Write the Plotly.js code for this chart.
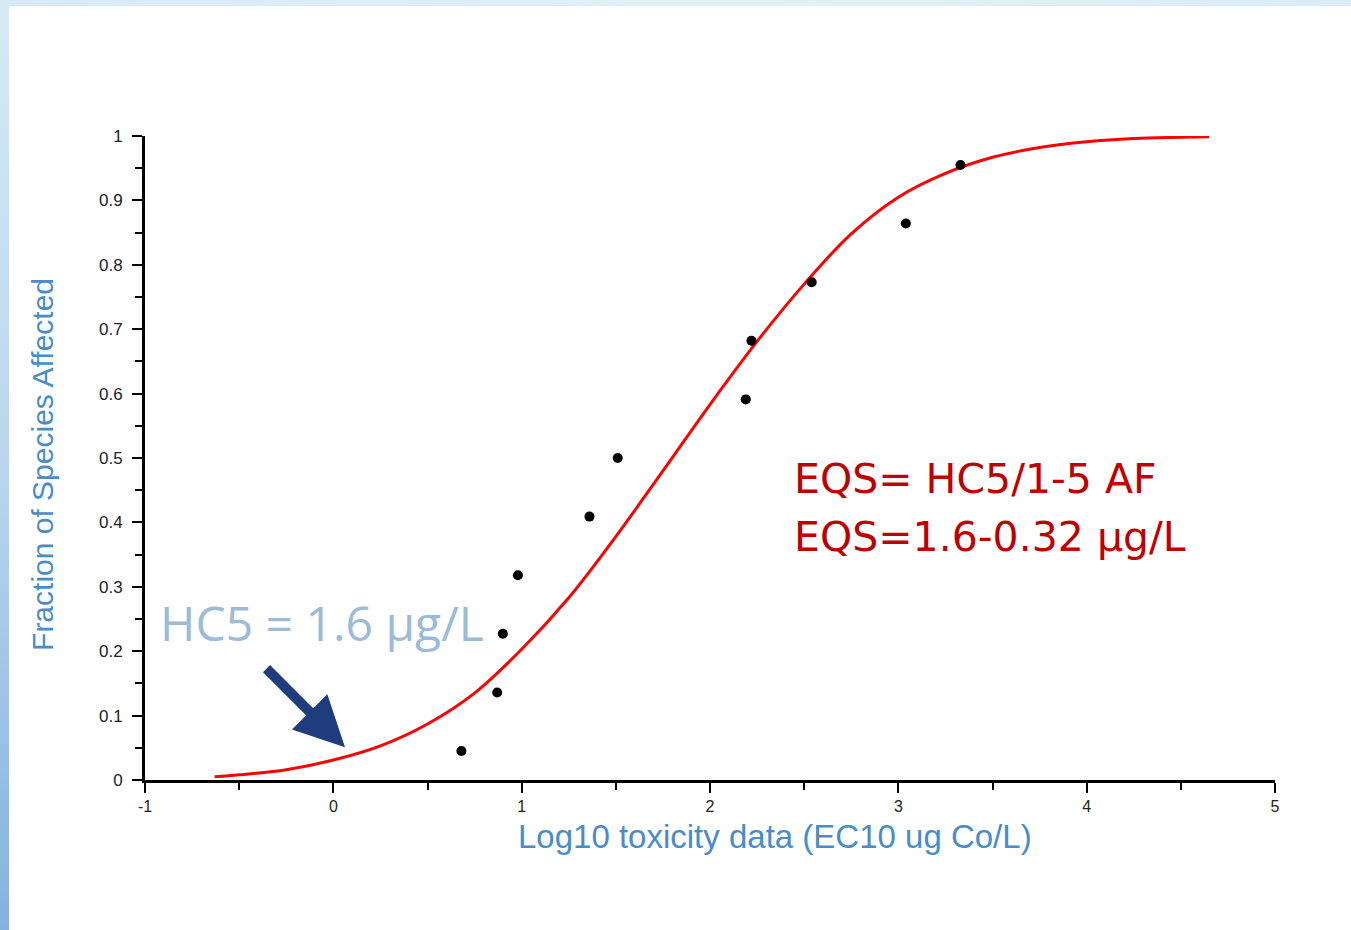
<!DOCTYPE html>
<html>
<head>
<meta charset="utf-8">
<script src="https://cdn.plot.ly/plotly-3.0.1.min.js"></script>
<style>
  html, body { margin:0; padding:0; width:1351px; height:930px; overflow:hidden; }
  #frame { position:absolute; left:0; top:0; width:1351px; height:930px;
           background: linear-gradient(180deg, #d6eaf6 0%, #b9d6ee 50%, #82b3de 100%); }
  #inner { position:absolute; left:9px; top:6px; right:0; bottom:0; background:#ffffff; }
  #topstrip { position:absolute; left:0; top:0; width:1351px; height:6px;
              background: linear-gradient(90deg, #d6eaf6 0%, #e2f0f8 60%, #d9ecf6 100%); }
  #chart { position:absolute; left:0; top:0; width:1351px; height:930px; }
</style>
</head>
<body>
<div id="frame"></div>
<div id="topstrip"></div>
<div id="inner"></div>
<div id="chart"></div>
<script>
// Observed species toxicity data (log10 EC10) and fraction affected
const pointX = [0.68, 0.87, 0.90, 0.98, 1.36, 1.51, 2.19, 2.22, 2.54, 3.04, 3.33];
const pointY = [0.045, 0.136, 0.227, 0.318, 0.409, 0.500, 0.591, 0.682, 0.773, 0.864, 0.955];

// Fitted species sensitivity distribution curve
const curveX = [-0.63, -0.5, -0.25, 0, 0.25, 0.5, 0.75, 1.0, 1.25, 1.5, 1.75, 2.0, 2.25, 2.5, 2.75, 3.0, 3.25, 3.5, 3.75, 4.0, 4.25, 4.5, 4.65];
const curveY = [0.005, 0.008, 0.016, 0.031, 0.053, 0.087, 0.135, 0.203, 0.283, 0.378, 0.480, 0.583, 0.681, 0.770, 0.848, 0.905, 0.942, 0.967, 0.982, 0.991, 0.996, 0.998, 0.999];

// Tick labels
const xTicks = [-1, 0, 1, 2, 3, 4, 5];
const xTickText = ['-1', '0', '1', '2', '3', '4', '5'];
const yTicks = [0, 0.1, 0.2, 0.3, 0.4, 0.5, 0.6, 0.7, 0.8, 0.9, 1];
const yTickText = ['0', '0.1', '0.2', '0.3', '0.4', '0.5', '0.6', '0.7', '0.8', '0.9', '1'];

const traces = [
  { x: curveX, y: curveY, type: 'scatter', mode: 'lines',
    line: { color: '#ff0000', width: 3, shape: 'spline', smoothing: 1 }, hoverinfo: 'skip' },
  { x: pointX, y: pointY, type: 'scatter', mode: 'markers',
    marker: { color: '#000000', size: 10 } }
];

const axisCommon = {
  showline: true, linecolor: '#000', linewidth: 3, mirror: false,
  showgrid: false, zeroline: false,
  ticks: 'outside', ticklen: 10, tickwidth: 2, tickcolor: '#000',
  fixedrange: true
};

const layout = {
  width: 1351, height: 930,
  paper_bgcolor: 'rgba(0,0,0,0)', plot_bgcolor: 'rgba(0,0,0,0)',
  margin: { l: 145, r: 76, t: 136, b: 150 },
  showlegend: false,
  xaxis: Object.assign({}, axisCommon, {
    range: [-1, 5], tickmode: 'array', tickvals: xTicks, ticktext: xTickText,
    tickfont: { family: 'Liberation Sans, Arial, sans-serif', size: 16, color: '#222' },
    ticklabelstandoff: 0,
    minor: { dtick: 0.5, ticks: 'outside', ticklen: 7, tickwidth: 2, tickcolor: '#000', showgrid: false }
  }),
  yaxis: Object.assign({}, axisCommon, {
    range: [0, 1], tickmode: 'array', tickvals: yTicks, ticktext: yTickText,
    tickfont: { family: 'Liberation Sans, Arial, sans-serif', size: 17, color: '#222' },
    ticklabelstandoff: 6,
    minor: { dtick: 0.05, ticks: 'outside', ticklen: 7, tickwidth: 2, tickcolor: '#000', showgrid: false }
  }),
  annotations: [
    { text: 'Log10 toxicity data (EC10 ug Co/L)', xref: 'paper', yref: 'paper',
      x: 0.5575, y: -0.088, xanchor: 'center', yanchor: 'middle', showarrow: false,
      font: { family: 'Liberation Sans, Arial, sans-serif', size: 33, color: '#4a8cc6' } },
    { text: 'Fraction of Species Affected', xref: 'paper', yref: 'paper',
      x: -0.0907, y: 0.49, xanchor: 'center', yanchor: 'middle', textangle: -90, showarrow: false,
      font: { family: 'Liberation Sans, Arial, sans-serif', size: 30, color: '#4a8cc6' } },
    { text: 'HC5 = 1.6 µg/L', xref: 'paper', yref: 'paper',
      x: 0.0115, y: 0.245, xanchor: 'left', yanchor: 'middle', showarrow: false,
      font: { family: 'Open Sans, sans-serif', size: 48, color: '#9bbbd6' } },
    { text: 'EQS= HC5/1-5 AF', xref: 'paper', yref: 'paper',
      x: 0.573, y: 0.468, xanchor: 'left', yanchor: 'middle', showarrow: false,
      font: { family: 'DejaVu Sans, sans-serif', size: 41, color: '#c00000' } },
    { text: 'EQS=1.6-0.32 µg/L', xref: 'paper', yref: 'paper',
      x: 0.573, y: 0.378, xanchor: 'left', yanchor: 'middle', showarrow: false,
      font: { family: 'DejaVu Sans, sans-serif', size: 41, color: '#c00000' } },
    { text: '', x: 0.062, y: 0.051, xref: 'x', yref: 'y',
      showarrow: true, ax: -80, ay: -80, arrowhead: 2, arrowsize: 1.0, arrowwidth: 10,
      arrowcolor: '#1f3d7d', standoff: 0 }
  ]
};

Plotly.newPlot('chart', traces, layout, { displayModeBar: false, staticPlot: true });
</script>
</body>
</html>
